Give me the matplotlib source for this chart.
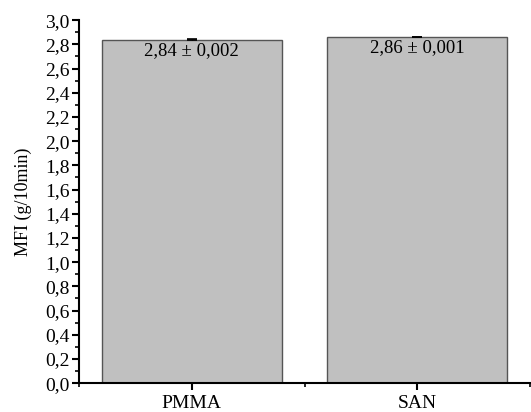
import numpy as np
from matplotlib import pyplot as plt
from matplotlib.ticker import MultipleLocator, FuncFormatter

# data
samples = ['PMMA', 'SAN']
mfi = [2.84, 2.86]
mfi_err = [0.002, 0.001]
labels = ['2,84 ± 0,002', '2,86 ± 0,001']

plt.rcParams['font.family'] = ['Liberation Serif', 'DejaVu Serif']
plt.rcParams['font.size'] = 13

fig = plt.figure(figsize=(5.31, 4.12), dpi=100)
ax = fig.add_axes([0.149, 0.070, 0.849, 0.881])

x = np.arange(len(samples))
ax.bar(x, mfi, width=0.8, color='#c0c0c0', edgecolor='#555555', linewidth=1.0,
       yerr=mfi_err, capsize=3.5, error_kw={'elinewidth': 1, 'capthick': 1.2, 'ecolor': 'black'})

for xi, val, lab in zip(x, mfi, labels):
    ax.text(xi, val - 0.09, lab, ha='center', va='center', fontsize=13.5)

ax.set_xlim(-0.5, 1.5)
ax.set_ylim(0, 3.0)
ax.set_xticks(x)
ax.set_xticklabels(samples, fontsize=14)
ax.xaxis.set_minor_locator(MultipleLocator(0.5))
ax.yaxis.set_major_locator(MultipleLocator(0.2))
ax.yaxis.set_minor_locator(MultipleLocator(0.1))
ax.yaxis.set_major_formatter(FuncFormatter(lambda v, p: ('%.1f' % v).replace('.', ',')))
ax.set_ylabel('MFI (g/10min)', fontsize=13, labelpad=9)

for s in ['top', 'right']:
    ax.spines[s].set_visible(False)
for s in ['left', 'bottom']:
    ax.spines[s].set_linewidth(1.5)
ax.tick_params(which='major', direction='out', length=5, width=1.5)
ax.tick_params(axis='y', which='major', labelsize=14, pad=2)
ax.tick_params(which='minor', direction='out', length=3, width=1.2)

fig.savefig('out.png', dpi=100)
